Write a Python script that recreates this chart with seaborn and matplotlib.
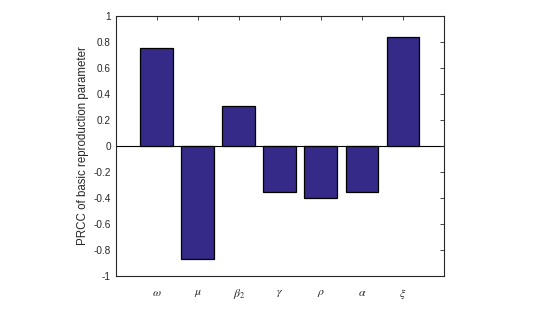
import pandas as pd
import matplotlib
matplotlib.use("Agg")
import matplotlib.pyplot as plt
import seaborn as sns

params = [r'$\omega$', r'$\mu$', r'$\beta_2$', r'$\gamma$', r'$\rho$', r'$\alpha$', r'$\xi$']
prcc = [0.757, -0.870, 0.305, -0.355, -0.397, -0.353, 0.839]

df = pd.DataFrame({'param': params, 'prcc': prcc})

sns.set_theme(style="white")
plt.rcParams['font.family'] = ['Liberation Sans', 'DejaVu Sans']
plt.rcParams['mathtext.fontset'] = 'stix'

fig = plt.figure(figsize=(5.57, 3.12), dpi=100)
ax = fig.add_axes([0.208, 0.115, 0.589, 0.834])

sns.barplot(data=df, x='param', y='prcc', order=params, color='#352a87',
            saturation=1, width=0.8, edgecolor='black', linewidth=0.9, ax=ax)
ax.axhline(0, color='black', linewidth=0.8, zorder=0)

ax.set_xlim(-1, 7)
ax.set_ylim(-1, 1)
ax.set_yticks([i / 10 for i in range(-10, 11, 2)])
ax.set_yticklabels(['-1', '-0.8', '-0.6', '-0.4', '-0.2', '0', '0.2', '0.4', '0.6', '0.8', '1'])
ax.set_xlabel('')
ax.set_ylabel('PRCC of basic reproduction parameter', fontsize=8.3, color='#262626', labelpad=3)

ax.tick_params(axis='both', direction='in', length=3, width=0.6, top=True, right=True,
               labelsize=7.2, colors='#262626')
ax.tick_params(axis='x', pad=8, labelsize=8.5)
for s in ax.spines.values():
    s.set_linewidth(0.8)
    s.set_color('#262626')

fig.savefig('out.png', dpi=100)
